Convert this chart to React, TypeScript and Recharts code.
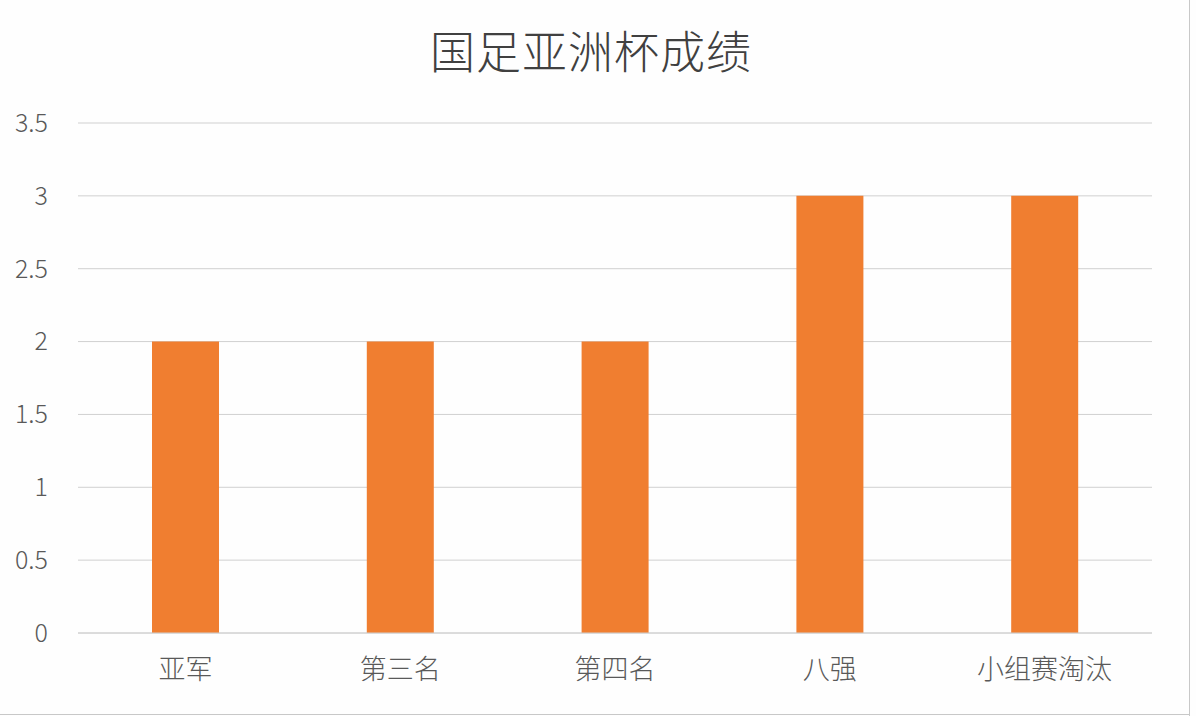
import React from 'react';
import { BarChart, Bar, XAxis, YAxis, CartesianGrid } from 'recharts';

const categories = ['亚军', '第三名', '第四名', '八强', '小组赛淘汰'];
const counts = [2, 2, 2, 3, 3];
const yTicks = [0, 0.5, 1, 1.5, 2, 2.5, 3, 3.5];

const data = categories.map((name, i) => ({ name, value: counts[i] }));

const FONT = '"Noto Sans CJK SC", "Noto Sans", sans-serif';

export default function App() {
  return (
    <div
      style={{
        position: 'absolute',
        left: 0,
        top: 0,
        width: 1196,
        height: 716,
        background: '#fefefe',
        fontFamily: FONT,
        overflow: 'hidden',
      }}
    >
      <div
        style={{
          position: 'absolute',
          left: 0,
          width: 1182,
          top: 22,
          textAlign: 'center',
          fontSize: 45,
          fontWeight: 300,
          lineHeight: '56px',
          color: '#404040',
          letterSpacing: 1,
        }}
      >
        国足亚洲杯成绩
      </div>
      <div
        style={{
          position: 'absolute',
          left: 1189,
          top: 0,
          width: 1,
          height: 716,
          background: '#c8c8c8',
        }}
      />
      <div
        style={{
          position: 'absolute',
          left: 0,
          top: 714,
          width: 1190,
          height: 1,
          background: '#c8c8c8',
        }}
      />
      <BarChart
        width={1196}
        height={716}
        data={data}
        margin={{ top: 123, right: 44, bottom: 0, left: 0 }}
        barSize={67}
        style={{ position: 'absolute', left: 0, top: 0 }}
      >
        <CartesianGrid vertical={false} stroke="#d0d0d0" strokeWidth={1} />
        <XAxis
          dataKey="name"
          height={83}
          axisLine={{ stroke: '#d0d0d0' }}
          tickLine={false}
          tickSize={0}
          tickMargin={27}
          interval={0}
          tick={{ fill: '#595959', fontSize: 27, fontWeight: 300, fontFamily: FONT }}
        />
        <YAxis
          width={78}
          domain={[0, 3.5]}
          ticks={yTicks}
          axisLine={false}
          tickLine={false}
          tickSize={0}
          tickMargin={30}
          tick={{ fill: '#595959', fontSize: 25, fontWeight: 300, fontFamily: FONT }}
        />
        <Bar dataKey="value" fill="#F07E30" isAnimationActive={false} />
      </BarChart>
    </div>
  );
}
